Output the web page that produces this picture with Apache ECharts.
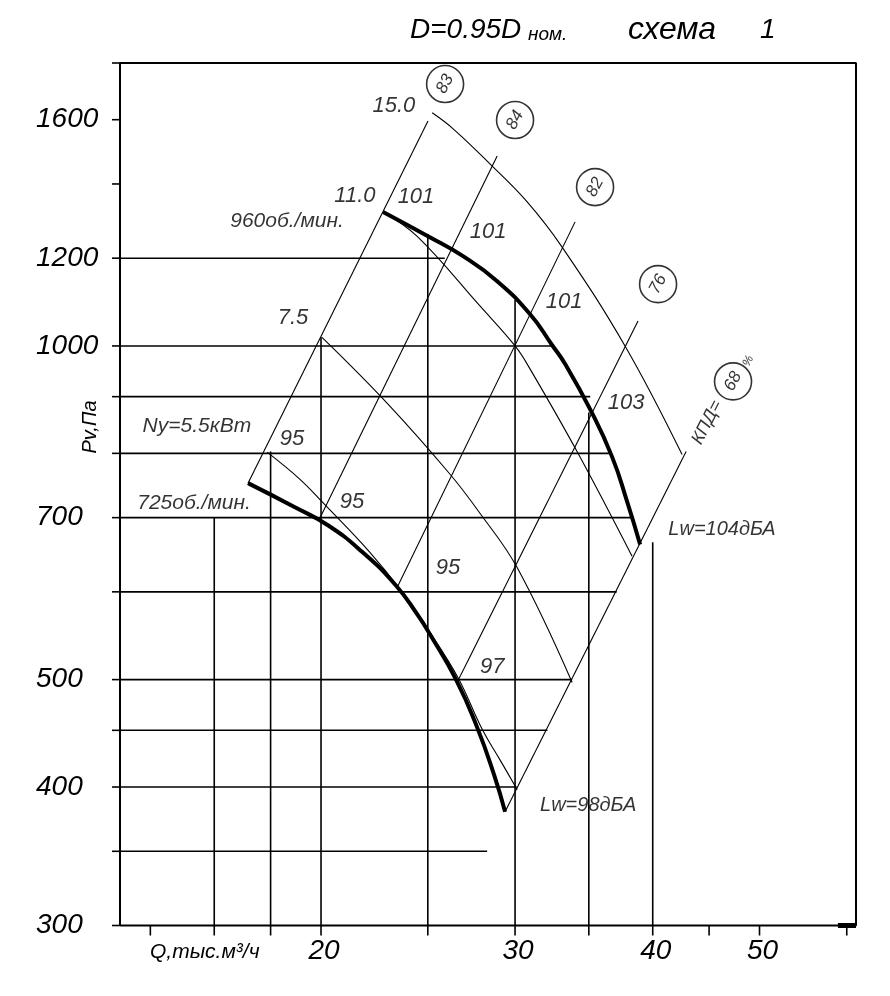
<!DOCTYPE html>
<html><head><meta charset="utf-8">
<script src="https://cdn.jsdelivr.net/npm/echarts@6/dist/echarts.min.js"></script>
<style>html,body{margin:0;padding:0;background:#fff}#c{width:890px;height:996px}</style>
</head><body><div id="c"></div>
<script>
// ---- axes ----
const xMin = 13.14, xMax = 61.17, yMin = 300, yMax = 1800;
const xTicks = [14, 16, 18, 20, 25, 30, 35, 40, 45, 50, 60];
const xTickLabels = [20, 30, 40, 50];
const yTicks = [300, 350, 400, 450, 500, 600, 700, 800, 900, 1000, 1200, 1400, 1600, 1800];
const yTickLabels = [300, 400, 500, 700, 1000, 1200, 1600];

// ---- partial grid lines ----
const hGridValues = [1200, 1000, 900, 800, 700, 600, 500, 450, 400, 350];
const hGridEnds   = [25.9, 32.4, 35.1, 36.5, 38.3, 37.1, 33.8, 32.1, 30.1, 28.3];
const vGridValues = [16, 18, 20, 25, 30, 35, 40];
const vGridTops   = [700, 803, 1018, 1262, 1100, 871, 665];

// ---- fan curves (Q, Pv) ----
const rpm960 = [[22.77,1321],[25.01,1256],[26.91,1205],[28.90,1144],[30.96,1068],[32.41,1002],[33.31,963],[35.09,877],[36.73,795],[37.91,724],[38.96,662]];
const rpm725 = [[17.17,752],[18.90,716],[20.29,689],[21.79,652],[23.39,608],[24.50,571],[25.12,549],[26.52,500],[27.71,453],[28.72,410],[29.38,380]];

// ---- efficiency lines ----
const effLabels = ['83', '84', '82', '76', '68'];
const effStart  = [[17.17,752],[19.96,700],[23.44,605],[26.63,499],[29.38,380]];
const effEnd    = [[25.01,1596],[28.90,1484],[34.01,1294],[38.79,1053],[42.89,803]];
const effCircle = [[25.92,1723],[30.00,1599],[35.46,1391],[40.45,1137],[47.31,929]];

// ---- power lines ----
const power15 = [[25.23,1623],[26.36,1570],[28.48,1459],[30.77,1349],[33.10,1228],[37.75,1000],[42.53,798]];
const power11 = [[22.77,1321],[24.44,1256],[27.89,1086],[30.00,1000],[30.96,953],[34.15,803],[38.31,646]];
const power75 = [[20.04,1018],[22.96,888],[26.19,766],[27.89,706],[30.13,631],[33.80,497]];
const power55 = [[17.87,802],[19.14,758],[20.08,722],[22.16,651],[23.59,603],[25.12,551],[26.63,502],[28.01,451],[29.08,423],[30.13,398]];

// ---- annotations ----
const labelTexts = ['15.0','11.0','960об./мин.','7.5','Ny=5.5кВт','725об./мин.','101','101','101','103','95','95','95','97','Lw=104дБА','Lw=98дБА'];
const labelQ     = [23.29, 21.47, 18.63, 18.86, 15.43, 15.34, 24.39, 28.36, 33.24, 37.83, 18.82, 21.34, 26.08, 28.60, 46.23, 34.95];
const labelP     = [1647, 1366, 1296, 1059, 846, 722, 1363, 1267, 1095, 888, 825, 724, 630, 513, 683, 385];
const labelSizes = [22, 22, 21, 22, 21, 21, 22, 22, 22, 22, 22, 22, 22, 22, 20, 20];
const rotTexts = ['КПД=', '%'];
const rotQ = [44.81, 48.82];
const rotP = [853, 969];

const INK = '#000';
const FONT = '"Liberation Sans", Arial, sans-serif';
const chart = echarts.init(document.getElementById('c'), null, { renderer: 'canvas' });

function lineSeries(data, width, opts) {
  return Object.assign({
    type: 'line', data: data, symbol: 'none', showSymbol: false, silent: true,
    animation: false, lineStyle: { color: INK, width: width }, z: 3
  }, opts || {});
}

const series = [];
series.push(lineSeries([[xMin,yMin],[xMin,yMax],[xMax,yMax],[xMax,yMin],[xMin,yMin]], 2, { z: 4, clip: false }));
series.push(lineSeries([[58.9,yMin],[xMax,yMin]], 5, { z: 4, clip: false }));
hGridValues.forEach((v, i) => series.push(lineSeries([[xMin, v], [hGridEnds[i], v]], 1.6)));
vGridValues.forEach((v, i) => series.push(lineSeries([[v, yMin], [v, vGridTops[i]]], 1.6)));
effStart.forEach((s, i) => series.push(lineSeries([s, effEnd[i]], 1.1)));
[power15, power11, power75, power55].forEach(d => series.push(lineSeries(d, 1.1, { smooth: 0.4 })));
series.push(lineSeries(rpm960, 4, { smooth: 0.5, z: 6 }));
series.push(lineSeries(rpm725, 4, { smooth: 0.5, z: 6 }));

series.push({
  type: 'custom', silent: true, animation: false, clip: false, z: 5,
  data: yTicks.map(v => [xMin, v]),
  renderItem: (params, api) => {
    const p = api.coord([api.value(0), api.value(1)]);
    return { type: 'line', shape: { x1: p[0] - 8, y1: p[1], x2: p[0], y2: p[1] }, style: { stroke: INK, lineWidth: 1.6 } };
  }
});
series.push({
  type: 'custom', silent: true, animation: false, clip: false, z: 5,
  data: xTicks.map(v => [v, yMin]),
  renderItem: (params, api) => {
    const p = api.coord([api.value(0), api.value(1)]);
    return { type: 'line', shape: { x1: p[0], y1: p[1], x2: p[0], y2: p[1] + 10 }, style: { stroke: INK, lineWidth: 1.6 } };
  }
});
series.push({
  type: 'custom', silent: true, animation: false, clip: false, z: 5,
  data: yTickLabels.map(v => [xMin, v]),
  renderItem: (params, api) => {
    const p = api.coord([api.value(0), api.value(1)]);
    return { type: 'text', x: 36, y: p[1], style: { text: String(api.value(1)), font: 'italic 28px ' + FONT, fill: INK, align: 'left', verticalAlign: 'middle' } };
  }
});
series.push({
  type: 'custom', silent: true, animation: false, clip: false, z: 5,
  data: xTickLabels.map(v => [v, yMin]),
  renderItem: (params, api) => {
    const p = api.coord([api.value(0), api.value(1)]);
    return { type: 'text', x: p[0] + 3, y: p[1] + 26, style: { text: String(api.value(0)), font: 'italic 28px ' + FONT, fill: INK, align: 'center', verticalAlign: 'middle' } };
  }
});

series.push({
  type: 'scatter', silent: true, animation: false, symbolSize: 1, itemStyle: { color: 'rgba(0,0,0,0)' }, z: 8,
  data: labelTexts.map((t, i) => ({ value: [labelQ[i], labelP[i]], name: t, label: { fontSize: labelSizes[i] } })),
  label: { show: true, position: 'inside', formatter: '{b}', color: INK, textBorderWidth: 0, fontStyle: 'italic', fontFamily: FONT }
});
series.push({
  type: 'scatter', silent: true, animation: false, symbolSize: 1, itemStyle: { color: 'rgba(0,0,0,0)' }, z: 8,
  data: rotTexts.map((t, i) => ({ value: [rotQ[i], rotP[i]], name: t, label: { fontSize: i === 0 ? 18 : 12 } })),
  label: { show: true, position: 'inside', rotate: 63, formatter: '{b}', color: INK, textBorderWidth: 0, fontStyle: 'italic', fontFamily: FONT }
});
series.push({
  type: 'scatter', silent: true, animation: false, symbol: 'circle', symbolSize: 37, z: 8,
  itemStyle: { color: '#fff', borderColor: INK, borderWidth: 1.6 },
  data: effLabels.map((t, i) => ({ value: effCircle[i], name: t })),
  label: { show: true, position: 'inside', rotate: 62, formatter: '{b}', color: INK, textBorderWidth: 0, fontSize: 17, fontStyle: 'italic', fontFamily: FONT }
});

const option = {
  animation: false,
  backgroundColor: '#fff',
  grid: { left: 120, right: 34, top: 63, bottom: 70.5, containLabel: false },
  xAxis: { type: 'log', min: xMin, max: xMax, axisLine: { show: false }, axisTick: { show: false }, axisLabel: { show: false }, splitLine: { show: false } },
  yAxis: { type: 'log', min: yMin, max: yMax, axisLine: { show: false }, axisTick: { show: false }, axisLabel: { show: false }, splitLine: { show: false } },
  graphic: [
    { type: 'text', left: 410, top: 16, style: { text: 'D=0.95D', font: 'italic 28px ' + FONT, fill: INK } },
    { type: 'text', left: 528, top: 25, style: { text: 'ном.', font: 'italic 19px ' + FONT, fill: INK } },
    { type: 'text', left: 628, top: 14, style: { text: 'схема', font: 'italic 32px ' + FONT, fill: INK } },
    { type: 'text', left: 760, top: 16, style: { text: '1', font: 'italic 28px ' + FONT, fill: INK } },
    { type: 'text', x: 90, y: 427, rotation: Math.PI / 2, style: { text: 'Pv,Па', font: 'italic 20px ' + FONT, fill: INK, align: 'center', verticalAlign: 'middle' } },
    { type: 'text', x: 150, y: 952, style: { text: 'Q,тыс.м³/ч', font: 'italic 21px ' + FONT, fill: INK, align: 'left', verticalAlign: 'middle' } }
  ],
  series: series
};
chart.setOption(option);
</script>
</body></html>
